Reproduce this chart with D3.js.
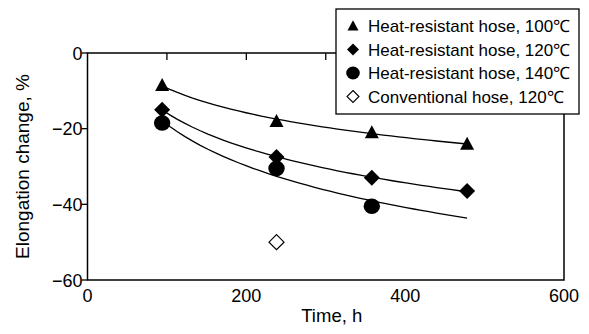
<!DOCTYPE html>
<html>
<head>
<meta charset="utf-8">
<script src="https://cdn.jsdelivr.net/npm/d3@7"></script>
<style>
  body { margin: 0; background: #fff; }
  text { font-family: "Liberation Sans", Arial, sans-serif; fill: #000; }
</style>
</head>
<body>
<div id="chart"></div>
<script>
// data
var times = [94, 238, 358, 478];
var hr100 = [-8.5, -18, -21, -24];
var hr120 = [-15, -27.5, -33, -36.5];
var hr140 = [-18.5, -30.5, -40.5];
var convTimes = [238];
var conv120 = [-50];

var xTicks = [0, 200, 400, 600];
var xMinor = [100, 200, 300, 400, 500];
var yTicks = [0, -20, -40, -60];

var legendLabels = [
  "Heat-resistant hose, 100\u2103",
  "Heat-resistant hose, 120\u2103",
  "Heat-resistant hose, 140\u2103",
  "Conventional hose, 120\u2103"
];

var W = 589, H = 334;
var margin = { top: 53, right: 25, bottom: 54, left: 87.5 };

var svg = d3.select("#chart").append("svg")
  .attr("width", W)
  .attr("height", H);

var x = d3.scaleLinear().domain([0, 600]).range([margin.left, W - margin.right]);
var y = d3.scaleLinear().domain([-60, 0]).range([H - margin.bottom, margin.top]);

// marker paths centred on 0,0
function triangle(w) {
  var h = w * 0.93;
  return "M0," + (-h * 0.55) + "L" + (w / 2) + "," + (h * 0.45) + "L" + (-w / 2) + "," + (h * 0.45) + "Z";
}
function diamond(w) {
  var r = w / 2;
  return "M0," + (-r) + "L" + r + ",0L0," + r + "L" + (-r) + ",0Z";
}

// log trendline, same as a spreadsheet "logarithmic" fit
function logFit(xs, ys) {
  var lx = xs.map(Math.log);
  var mx = d3.mean(lx), my = d3.mean(ys);
  var sxy = d3.sum(lx, function(v, i) { return (v - mx) * (ys[i] - my); });
  var sxx = d3.sum(lx, function(v) { return (v - mx) * (v - mx); });
  var a = sxy / sxx, b = my - a * mx;
  return function(t) { return a * Math.log(t) + b; };
}

var line = d3.line()
  .x(function(d) { return x(d[0]); })
  .y(function(d) { return y(d[1]); });

var fitEnd = times[times.length - 1];
[ [times, hr100], [times, hr120], [times.slice(0, hr140.length), hr140] ].forEach(function(s) {
  var f = logFit(s[0], s[1]);
  var pts = d3.range(0, 41).map(function(i) {
    var t = s[0][0] + (fitEnd - s[0][0]) * i / 40;
    return [t, f(t)];
  });
  svg.append("path")
    .attr("d", line(pts))
    .attr("fill", "none")
    .attr("stroke", "#000")
    .attr("stroke-width", 1.3);
});

// frame
svg.append("rect")
  .attr("x", x(0)).attr("y", y(0))
  .attr("width", x(600) - x(0)).attr("height", y(-60) - y(0))
  .attr("fill", "none").attr("stroke", "#000").attr("stroke-width", 1.5);

// ticks on the top edge pointing down
svg.selectAll(".xtick").data(xMinor).enter().append("line")
  .attr("x1", function(d) { return x(d); }).attr("x2", function(d) { return x(d); })
  .attr("y1", y(0)).attr("y2", y(0) + 7)
  .attr("stroke", "#000").attr("stroke-width", 1.3);

// y ticks outward
svg.selectAll(".ytick").data(yTicks).enter().append("line")
  .attr("x1", x(0) - 6).attr("x2", x(0))
  .attr("y1", function(d) { return y(d); }).attr("y2", function(d) { return y(d); })
  .attr("stroke", "#000").attr("stroke-width", 1.3);

svg.selectAll(".xlab").data(xTicks).enter().append("text")
  .attr("x", function(d) { return x(d); })
  .attr("y", y(-60) + 22)
  .attr("text-anchor", "middle")
  .attr("font-size", 18)
  .text(function(d) { return d; });

svg.selectAll(".ylab").data(yTicks).enter().append("text")
  .attr("x", x(0) - 5)
  .attr("y", function(d) { return y(d) + 6.5; })
  .attr("text-anchor", "end")
  .attr("font-size", 18)
  .text(function(d) { return d < 0 ? "\u2212" + (-d) : d; });

svg.append("text")
  .attr("x", (x(0) + x(600)) / 2 + 6)
  .attr("y", 322)
  .attr("text-anchor", "middle")
  .attr("font-size", 18.5)
  .text("Time, h");

svg.append("text")
  .attr("transform", "translate(29," + (y(-30)) + ") rotate(-90)")
  .attr("text-anchor", "middle")
  .attr("font-size", 19)
  .text("Elongation change, %");

// markers
svg.selectAll(".tri").data(hr100).enter().append("path")
  .attr("transform", function(d, i) { return "translate(" + x(times[i]) + "," + y(d) + ")"; })
  .attr("d", triangle(14));
svg.selectAll(".dia").data(hr120).enter().append("path")
  .attr("transform", function(d, i) { return "translate(" + x(times[i]) + "," + y(d) + ")"; })
  .attr("d", diamond(16));
svg.selectAll(".cir").data(hr140).enter().append("ellipse")
  .attr("cx", function(d, i) { return x(times[i]); })
  .attr("cy", function(d) { return y(d); })
  .attr("rx", 8.2).attr("ry", 7.8);
svg.selectAll(".open").data(conv120).enter().append("path")
  .attr("transform", function(d, i) { return "translate(" + x(convTimes[i]) + "," + y(d) + ")"; })
  .attr("d", diamond(15))
  .attr("fill", "#fff").attr("stroke", "#000").attr("stroke-width", 1.2);

// legend
var lg = svg.append("g").attr("transform", "translate(336,9)");
lg.append("rect")
  .attr("width", 243).attr("height", 105)
  .attr("fill", "#fff").attr("stroke", "#000").attr("stroke-width", 1.3);
var rowY = [17, 40.5, 64, 87.5];
legendLabels.forEach(function(lab, i) {
  var m = lg.append("g").attr("transform", "translate(17," + rowY[i] + ")");
  if (i == 0) m.append("path").attr("d", triangle(11));
  if (i == 1) m.append("path").attr("d", diamond(12));
  if (i == 2) m.append("ellipse").attr("rx", 6.8).attr("ry", 6.5);
  if (i == 3) m.append("path").attr("d", diamond(12)).attr("fill", "#fff").attr("stroke", "#000").attr("stroke-width", 1.1);
  lg.append("text")
    .attr("x", 32).attr("y", rowY[i] + 6)
    .attr("font-size", 17)
    .text(lab);
});
</script>
</body>
</html>
